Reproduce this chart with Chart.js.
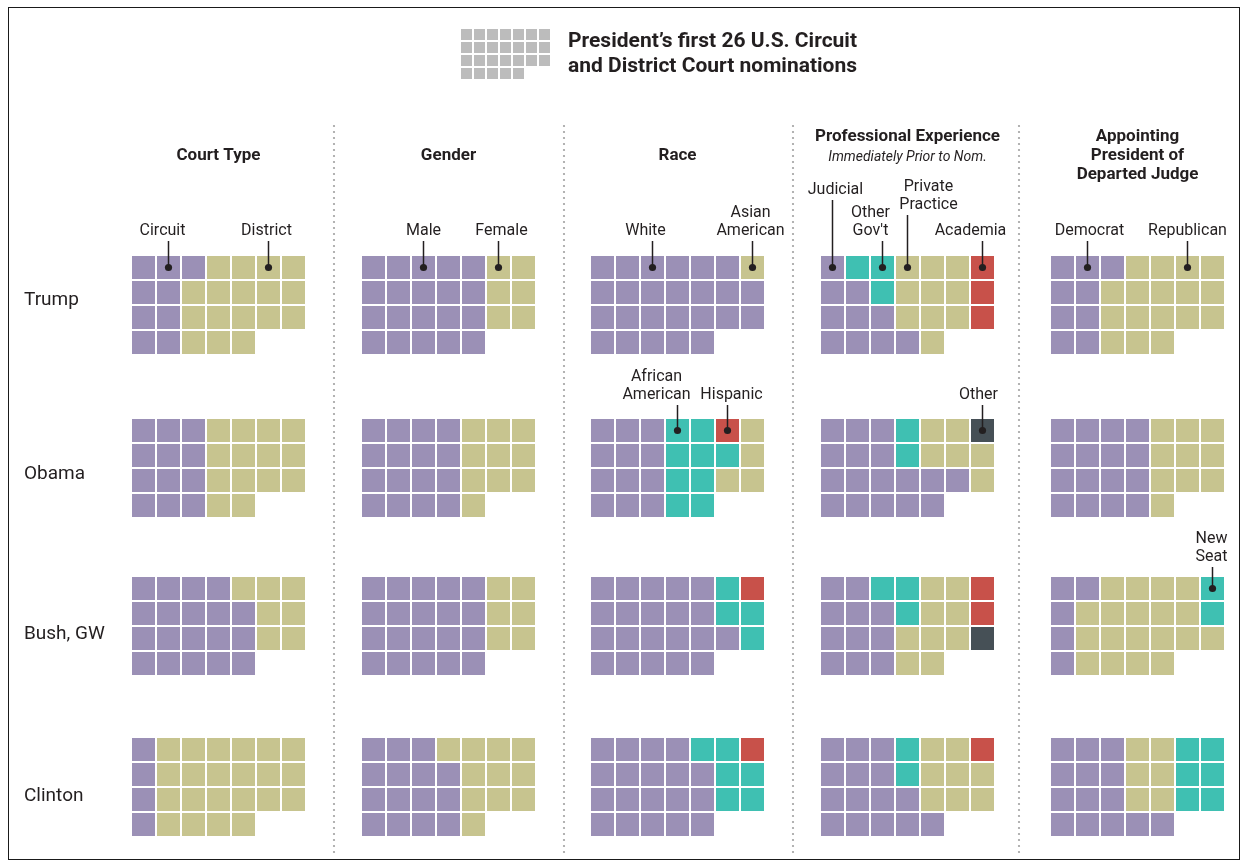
<!DOCTYPE html>
<html><head><meta charset="utf-8">
<script src="https://cdn.jsdelivr.net/npm/chart.js@4.4.1/dist/chart.umd.min.js"></script>
<style>html,body{margin:0;padding:0;background:#fff;}#wrap{width:1247px;height:863px;position:relative;}</style>
</head><body><div id="wrap"><canvas id="c" width="1247" height="863"></canvas></div>
<script>
// ---------------- DATA ----------------
const presidents = ["Trump", "Obama", "Bush, GW", "Clinton"];
const panelTitles = [["Court Type"], ["Gender"], ["Race"], ["Professional Experience"], ["Appointing", "President of", "Departed Judge"]];
const panelSubtitles = ["", "", "", "Immediately Prior to Nom.", ""];
// Each nominee (26 per president) as a category code, listed column by column
// (columns 1-5 hold 4 nominees, columns 6-7 hold 3).
// P = first category, Y = second, T = third, R = fourth, D = fifth (see categoryNames)
const courtType = [
  "PPPP PPPP PYYY YYYY YYYY YYY YYY",
  "PPPP PPPP PPPP YYYY YYYY YYY YYY",
  "PPPP PPPP PPPP PPPP YPPP YYY YYY",
  "PPPP YYYY YYYY YYYY YYYY YYY YYY"
];
const gender = [
  "PPPP PPPP PPPP PPPP PPPP YYY YYY",
  "PPPP PPPP PPPP PPPP YYYY YYY YYY",
  "PPPP PPPP PPPP PPPP PPPP YYY YYY",
  "PPPP PPPP PPPP YPPP YYYY YYY YYY"
];
const race = [
  "PPPP PPPP PPPP PPPP PPPP PPP YPP",
  "PPPP PPPP PPPP TTTT TTTT RTY YYY",
  "PPPP PPPP PPPP PPPP PPPP TTP RTT",
  "PPPP PPPP PPPP PPPP TPPP TTT RTT"
];
const experience = [
  "PPPP TPPP TTPP YYYP YYYY YYY RRR",
  "PPPP PPPP PPPP TTPP YYPP YYP DYY",
  "PPPP PPPP TPPP TTYY YYYY YYY RRD",
  "PPPP PPPP PPPP TTPP YYYP YYY RYY"
];
const departedJudge = [
  "PPPP PPPP PYYY YYYY YYYY YYY YYY",
  "PPPP PPPP PPPP PPPP YYYY YYY YYY",
  "PPPP PYYY YYYY YYYY YYYY YYY TTY",
  "PPPP PPPP PPPP YYYP YYYP TTT TTT"
];
const categoryNames = [
  {P: "Circuit", Y: "District"},
  {P: "Male", Y: "Female"},
  {P: "White", Y: "Asian American", T: "African American", R: "Hispanic"},
  {P: "Judicial", T: "Other Gov't", Y: "Private Practice", R: "Academia", D: "Other"},
  {P: "Democrat", Y: "Republican", T: "New Seat"}
];
const panelData = [courtType, gender, race, experience, departedJudge];
// Callout labels: text lines, panel, president row, target cell column (0-based)
const calloutText = [
  ["Circuit"], ["District"], ["Male"], ["Female"], ["White"], ["Asian", "American"],
  ["Judicial"], ["Other", "Gov't"], ["Private", "Practice"], ["Academia"], ["Democrat"], ["Republican"],
  ["African", "American"], ["Hispanic"], ["Other"], ["New", "Seat"]
];
const calloutPanel = [0, 0, 1, 1, 2, 2, 3, 3, 3, 3, 4, 4, 2, 2, 3, 4];
const calloutRow   = [0, 0, 0, 0, 0, 0, 0, 0, 0, 0, 0, 0, 1, 1, 1, 2];
const calloutCol   = [1, 5, 2, 5, 2, 6, 0, 2, 3, 6, 1, 5, 3, 5, 6, 6];

// ---------------- LAYOUT / STYLE ----------------
const colors = {P: "#9b90b6", Y: "#c7c48f", T: "#3fc0b2", R: "#c8514a", D: "#465056"};
const panelX = [132, 362, 591, 821, 1051];
const rowY = [256, 419, 577, 738];
const PITCH = 25, CELL = 23;
const rowLabelY = [300, 474, 634, 796];
const calloutDx = [-6, -2, 0, 3, -7, -2, 3, -12, 21, -12, 2, 0, -21, 4, -4, -1];
const calloutY  = [231, 231, 231, 231, 231, 231, 190, 231, 205, 231, 231, 231, 395, 395, 395, 557];
const separatorsX = [334, 564, 793, 1019];
const FONT = "Roboto, 'Open Sans', 'Liberation Sans', sans-serif";
const INK = "#231f20";

function cellPos(p, r, i) {
  let col, row;
  if (i < 20) { col = Math.floor(i / 4); row = i % 4; }
  else { col = 5 + Math.floor((i - 20) / 3); row = (i - 20) % 3; }
  return {x: panelX[p] + col * PITCH + CELL / 2, y: rowY[r] + row * PITCH + CELL / 2};
}

const codes = ["P", "Y", "T", "R", "D"];
const datasets = codes.map(code => {
  const pts = [];
  panelData.forEach((arr, p) => {
    arr.forEach((s, r) => {
      s.replace(/\s/g, "").split("").forEach((c, i) => {
        if (c === code) pts.push(cellPos(p, r, i));
      });
    });
  });
  return {
    label: code, data: pts, pointStyle: "rect",
    radius: CELL / Math.SQRT2, hoverRadius: CELL / Math.SQRT2,
    backgroundColor: colors[code], borderWidth: 0, clip: false
  };
});

const decor = {
  id: "decor",
  beforeDatasetsDraw(chart) {
    const ctx = chart.ctx;
    ctx.save();
    // border
    ctx.strokeStyle = "#1a1a1a"; ctx.lineWidth = 1;
    ctx.strokeRect(8.5, 7.5, 1231, 852);
    // separators
    ctx.fillStyle = "#a0a0a0";
    separatorsX.forEach(x => {
      for (let y = 126; y < 856; y += 6) { ctx.beginPath(); ctx.arc(x, y, 1.1, 0, Math.PI * 2); ctx.fill(); }
    });
    // title icon
    ctx.fillStyle = "#bcbcbc";
    for (let i = 0; i < 26; i++) {
      let col, row;
      if (i < 20) { col = Math.floor(i / 4); row = i % 4; } else { col = 5 + Math.floor((i - 20) / 3); row = (i - 20) % 3; }
      ctx.fillRect(461 + col * 13, 29 + row * 13, 11, 11);
    }
    ctx.restore();
  },
  afterDatasetsDraw(chart) {
    const ctx = chart.ctx;
    ctx.save();
    ctx.fillStyle = INK;
    ctx.textBaseline = "middle";
    // title
    ctx.textAlign = "left";
    ctx.font = "bold 21px " + FONT;
    ctx.fillText("President\u2019s first 26 U.S. Circuit", 568, 42);
    ctx.fillText("and District Court nominations", 568, 67);
    // row labels
    ctx.font = "19px " + FONT;
    presidents.forEach((n, r) => ctx.fillText(n, 24, rowLabelY[r]));
    // panel headers
    ctx.textAlign = "center";
    panelTitles.forEach((lines, p) => {
      const cx = panelX[p] + (6 * PITCH + CELL) / 2;
      ctx.font = "bold 17px " + FONT;
      const startY = lines.length > 1 || panelSubtitles[p] ? 137 : 156;
      lines.forEach((t, k) => ctx.fillText(t, cx, startY + k * 19));
      if (panelSubtitles[p]) {
        ctx.font = "italic 14px " + FONT;
        ctx.fillText(panelSubtitles[p], cx, 157);
      }
    });
    // callouts
    calloutText.forEach((lines, k) => {
      const p = calloutPanel[k], r = calloutRow[k], c = calloutCol[k];
      const lx = panelX[p] + c * PITCH + CELL / 2;
      const ly = rowY[r] + CELL / 2;
      const ty = calloutY[k];
      ctx.font = "16px " + FONT;
      ctx.fillStyle = INK;
      lines.forEach((t, j) => ctx.fillText(t, lx + calloutDx[k], ty - (lines.length - 1 - j) * 18));
      ctx.strokeStyle = INK; ctx.lineWidth = 1.5;
      ctx.beginPath(); ctx.moveTo(lx, ty + 10); ctx.lineTo(lx, ly); ctx.stroke();
      ctx.beginPath(); ctx.arc(lx, ly, 3.6, 0, Math.PI * 2); ctx.fill();
    });
    ctx.restore();
  }
};

new Chart(document.getElementById("c"), {
  type: "scatter",
  data: {datasets},
  options: {
    responsive: false, animation: false, events: [],
    layout: {padding: 0, autoPadding: false},
    plugins: {legend: {display: false}, tooltip: {enabled: false}, title: {display: false}},
    scales: {
      x: {type: "linear", min: 0, max: 1247, display: false},
      y: {type: "linear", min: 0, max: 863, reverse: true, display: false}
    }
  },
  plugins: [decor]
});
</script></body></html>
